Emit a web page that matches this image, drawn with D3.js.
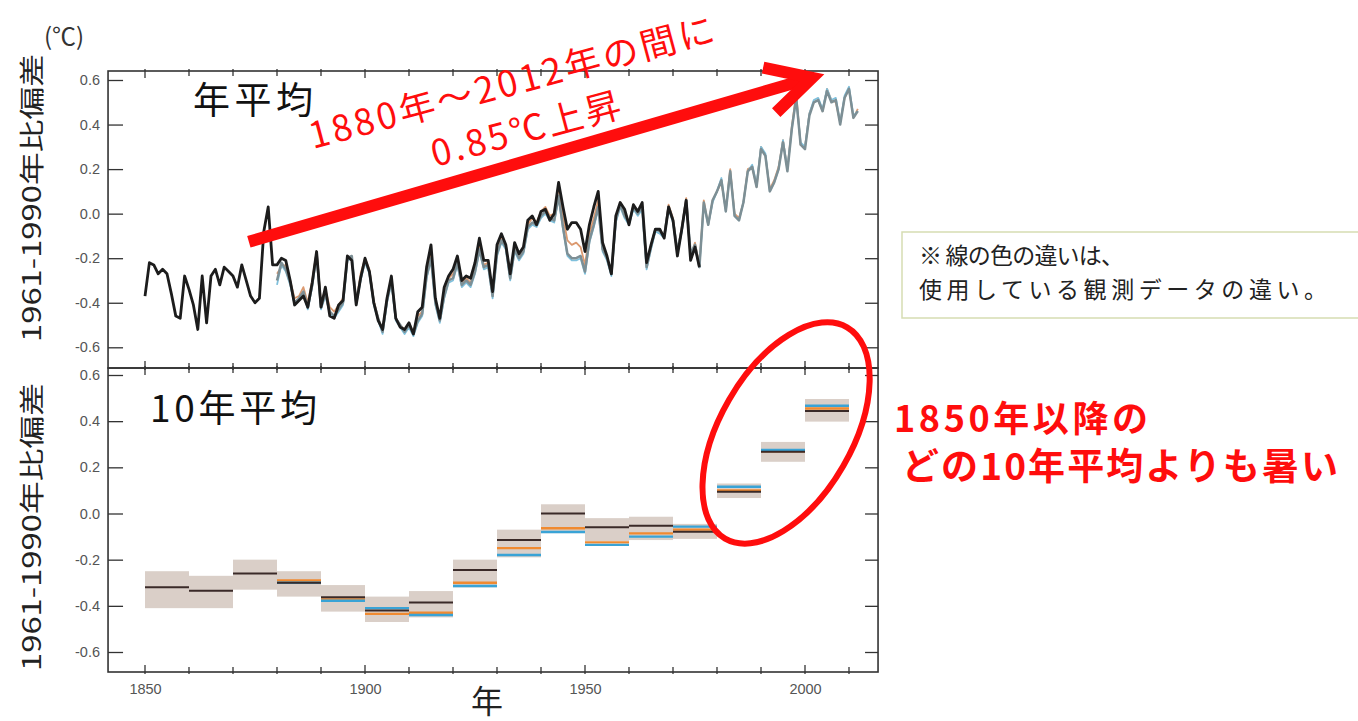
<!DOCTYPE html>
<html>
<head>
<meta charset="utf-8">
<script src="https://cdn.jsdelivr.net/npm/d3@7"></script>
<style>
  body { margin: 0; background: #fff; }
  svg { display: block; }
</style>
</head>
<body>
<svg id="chart" width="1358" height="721"></svg>
<script>
// ---- Annual global mean temperature anomaly (°C, relative to 1961-1990) ----
const hadStartYear = 1850;
const hadAnnual = [
  -0.37, -0.22, -0.23, -0.27, -0.25, -0.27, -0.36, -0.46, -0.47, -0.28,
  -0.34, -0.41, -0.52, -0.28, -0.49, -0.28, -0.25, -0.32, -0.24, -0.26,
  -0.28, -0.33, -0.23, -0.30, -0.37, -0.40, -0.38, -0.08, 0.03, -0.23,
  -0.23, -0.20, -0.21, -0.30, -0.41, -0.39, -0.37, -0.42, -0.31, -0.17,
  -0.42, -0.33, -0.46, -0.47, -0.41, -0.39, -0.19, -0.21, -0.41, -0.29,
  -0.20, -0.26, -0.40, -0.48, -0.52, -0.38, -0.28, -0.47, -0.51, -0.52,
  -0.49, -0.54, -0.44, -0.42, -0.24, -0.14, -0.38, -0.47, -0.33, -0.28,
  -0.25, -0.19, -0.30, -0.28, -0.29, -0.22, -0.11, -0.21, -0.21, -0.35,
  -0.14, -0.09, -0.14, -0.27, -0.13, -0.18, -0.15, -0.03, -0.01, -0.05,
  0.01, 0.02, -0.03, 0.00, 0.14, 0.03, -0.07, -0.04, -0.04, -0.07,
  -0.17, -0.05, 0.03, 0.10, -0.13, -0.19, -0.27, -0.01, 0.05, 0.02,
  -0.05, 0.04, 0.01, 0.05, -0.22, -0.14, -0.07, -0.07, -0.11, 0.03,
  -0.03, -0.19, -0.07, 0.06, -0.21, -0.15, -0.24
];

const altStartYear = 1880;
const grayAnnual = [
  -0.30, -0.22, -0.25, -0.31, -0.40, -0.38, -0.35, -0.42, -0.32, -0.18,
  -0.42, -0.36, -0.44, -0.46, -0.43, -0.40, -0.20, -0.19, -0.40, -0.29,
  -0.21, -0.26, -0.40, -0.47, -0.53, -0.39, -0.30, -0.47, -0.50, -0.53,
  -0.50, -0.54, -0.48, -0.45, -0.28, -0.20, -0.40, -0.48, -0.37, -0.30,
  -0.29, -0.22, -0.32, -0.30, -0.32, -0.26, -0.16, -0.24, -0.23, -0.37,
  -0.18, -0.12, -0.15, -0.29, -0.16, -0.20, -0.17, -0.06, -0.04, -0.05,
  -0.01, 0.01, -0.02, -0.03, 0.08, -0.06, -0.18, -0.20, -0.20, -0.19,
  -0.26, -0.12, -0.05, 0.03, -0.16, -0.20, -0.27, -0.03, 0.04, -0.01,
  -0.04, 0.03, 0.00, 0.03, -0.24, -0.15, -0.07, -0.08, -0.10, 0.03,
  -0.03, -0.17, -0.07, 0.06, -0.18, -0.14, -0.24, 0.05, -0.05, 0.06,
  0.10, 0.15, 0.01, 0.19, -0.01, -0.03, 0.05, 0.19, 0.21, 0.12,
  0.29, 0.26, 0.10, 0.14, 0.20, 0.32, 0.19, 0.38, 0.52, 0.31,
  0.29, 0.44, 0.50, 0.51, 0.46, 0.55, 0.50, 0.51, 0.40, 0.52,
  0.56, 0.43, 0.46
];
const orangeAnnual = [
  -0.27, -0.24, -0.23, -0.30, -0.38, -0.37, -0.33, -0.40, -0.30, -0.17,
  -0.40, -0.34, -0.42, -0.44, -0.41, -0.38, -0.19, -0.20, -0.39, -0.27,
  -0.20, -0.25, -0.39, -0.47, -0.52, -0.38, -0.30, -0.47, -0.50, -0.52,
  -0.50, -0.53, -0.46, -0.44, -0.26, -0.17, -0.39, -0.47, -0.35, -0.29,
  -0.27, -0.20, -0.31, -0.29, -0.31, -0.24, -0.14, -0.23, -0.22, -0.36,
  -0.16, -0.10, -0.14, -0.28, -0.15, -0.19, -0.16, -0.05, -0.02, -0.04,
  0.01, 0.03, -0.01, 0.00, 0.12, -0.01, -0.12, -0.14, -0.13, -0.15,
  -0.23, -0.09, -0.02, 0.06, -0.15, -0.20, -0.27, -0.02, 0.05, 0.01,
  -0.04, 0.04, 0.01, 0.04, -0.23, -0.14, -0.07, -0.07, -0.10, 0.04,
  -0.02, -0.17, -0.06, 0.07, -0.19, -0.13, -0.23, 0.06, -0.05, 0.06,
  0.10, 0.14, 0.02, 0.20, 0.00, -0.02, 0.05, 0.20, 0.21, 0.12,
  0.30, 0.26, 0.11, 0.15, 0.21, 0.33, 0.20, 0.39, 0.54, 0.31,
  0.30, 0.45, 0.50, 0.51, 0.46, 0.56, 0.51, 0.50, 0.41, 0.52,
  0.56, 0.43, 0.47
];
const blueAnnual = [
  -0.32, -0.23, -0.26, -0.32, -0.41, -0.39, -0.36, -0.43, -0.33, -0.19,
  -0.43, -0.37, -0.45, -0.47, -0.44, -0.41, -0.21, -0.20, -0.41, -0.30,
  -0.22, -0.27, -0.41, -0.48, -0.54, -0.40, -0.31, -0.48, -0.51, -0.54,
  -0.51, -0.55, -0.49, -0.46, -0.29, -0.21, -0.41, -0.49, -0.38, -0.31,
  -0.30, -0.23, -0.33, -0.31, -0.33, -0.27, -0.17, -0.25, -0.24, -0.38,
  -0.19, -0.13, -0.16, -0.30, -0.17, -0.21, -0.18, -0.07, -0.05, -0.06,
  -0.02, 0.00, -0.03, -0.04, 0.07, -0.07, -0.19, -0.21, -0.21, -0.20,
  -0.27, -0.13, -0.06, 0.02, -0.17, -0.21, -0.28, -0.04, 0.03, -0.02,
  -0.05, 0.02, -0.01, 0.02, -0.25, -0.16, -0.08, -0.09, -0.11, 0.02,
  -0.04, -0.18, -0.08, 0.05, -0.18, -0.14, -0.24, 0.04, -0.05, 0.05,
  0.10, 0.16, 0.01, 0.19, -0.01, -0.03, 0.05, 0.19, 0.22, 0.13,
  0.30, 0.27, 0.10, 0.14, 0.20, 0.33, 0.20, 0.38, 0.52, 0.32,
  0.30, 0.45, 0.51, 0.52, 0.47, 0.56, 0.51, 0.52, 0.41, 0.53,
  0.57, 0.44, 0.46
];

// ---- Decadal means (°C) ----
const decades = [1850, 1860, 1870, 1880, 1890, 1900, 1910, 1920,
                 1930, 1940, 1950, 1960, 1970, 1980, 1990, 2000];
const decBlack  = [-0.32, -0.335, -0.26, -0.30, -0.363, -0.42, -0.386, -0.245,
                   -0.115, 0.00, -0.06, -0.053, -0.079, 0.094, 0.268, 0.444];
const decHigh   = [-0.25, -0.27, -0.20, -0.25, -0.31, -0.36, -0.336, -0.20,
                   -0.07, 0.04, -0.02, -0.014, -0.045, 0.13, 0.31, 0.496];
const decLow    = [-0.41, -0.41, -0.33, -0.36, -0.425, -0.47, -0.45, -0.32,
                   -0.19, -0.085, -0.12, -0.115, -0.11, 0.067, 0.224, 0.398];
const decOrange = [null, null, null, -0.29, -0.372, -0.435, -0.43, -0.30,
                   -0.15, -0.064, -0.125, -0.086, -0.07, 0.10, 0.27, 0.455];
const decBlue   = [null, null, null, -0.30, -0.378, -0.41, -0.44, -0.314,
                   -0.18, -0.08, -0.136, -0.10, -0.057, 0.116, 0.275, 0.467];

// ---- Axis ticks ----
const yTickValues = [0.6, 0.4, 0.2, 0.0, -0.2, -0.4, -0.6];
const xLabelYears = [1850, 1900, 1950, 2000];
const decadeTicks = [1850, 1860, 1870, 1880, 1890, 1900, 1910, 1920,
                     1930, 1940, 1950, 1960, 1970, 1980, 1990, 2000, 2010];

const svg = d3.select("#chart");
const JP = "'Noto Sans CJK JP', 'Noto Sans', sans-serif";

// ---- Scales ----
const x = d3.scaleLinear().domain([1850, 2000]).range([145, 805]);
const xMin = 1841.6, xMax = 2016.6;
const yTop = d3.scaleLinear().domain([-0.6, 0.6]).range([347.3, 80]);
const yBot = d3.scaleLinear().domain([-0.6, 0.6]).range([652, 375]);
const topPanel = { y0: 71, y1: 368, scale: yTop };
const botPanel = { y0: 368, y1: 672, scale: yBot };

// ---- Bottom panel: decadal boxes and lines ----
const gBot = svg.append("g");
gBot.selectAll("rect.unc").data(decades).join("rect")
  .attr("class", "unc")
  .attr("x", d => x(d))
  .attr("width", d => x(d + 10) - x(d))
  .attr("y", (d, i) => yBot(decHigh[i]))
  .attr("height", (d, i) => yBot(decLow[i]) - yBot(decHigh[i]))
  .attr("fill", "#d6cac2")
  .attr("opacity", 0.9);

function decadeLines(values, color, width) {
  gBot.append("g").selectAll("line")
    .data(decades.map((d, i) => ({ d, v: values[i] })).filter(o => o.v !== null))
    .join("line")
    .attr("x1", o => x(o.d)).attr("x2", o => x(o.d + 10))
    .attr("y1", o => yBot(o.v)).attr("y2", o => yBot(o.v))
    .attr("stroke", color).attr("stroke-width", width);
}
decadeLines(decOrange, "#f08a30", 2.4);
decadeLines(decBlue, "#39a3d6", 2.4);
decadeLines(decBlack, "#3a2a28", 2);

// ---- Top panel: annual lines ----
const gTop = svg.append("g");
function annualLine(values, startYear, color, width) {
  const pts = values.map((v, i) => [startYear + i, v]);
  gTop.append("path")
    .datum(pts)
    .attr("fill", "none")
    .attr("stroke", color)
    .attr("stroke-width", width)
    .attr("stroke-linejoin", "round")
    .attr("d", d3.line().x(p => x(p[0])).y(p => yTop(p[1])));
}
annualLine(orangeAnnual, altStartYear, "#dc9a70", 1.8);
annualLine(blueAnnual, altStartYear, "#7fc0dc", 1.8);
annualLine(grayAnnual, altStartYear, "#7d8f95", 2.5);
annualLine(hadAnnual, hadStartYear, "#1c1c1c", 2.8);

// ---- Frames, ticks and tick labels ----
const fmt = d => d.toFixed(1);
[topPanel, botPanel].forEach(p => {
  const g = svg.append("g");
  g.append("rect")
    .attr("x", x(xMin)).attr("y", p.y0)
    .attr("width", x(xMax) - x(xMin)).attr("height", p.y1 - p.y0)
    .attr("fill", "none").attr("stroke", "#333").attr("stroke-width", 1.6);

  // y ticks pointing inward, with labels on the left
  const left = g.append("g").attr("transform", `translate(${x(xMin)},0)`)
    .call(d3.axisLeft(p.scale).tickValues(yTickValues).tickFormat(fmt)
      .tickSizeInner(-15).tickSizeOuter(0).tickPadding(8));
  left.select(".domain").remove();
  left.selectAll(".tick line").attr("stroke", "#333").attr("stroke-width", 1.3);
  left.selectAll(".tick text")
    .attr("font-family", "'Liberation Sans', Arial, sans-serif")
    .attr("font-size", 14.5).attr("fill", "#555");

  const right = g.append("g").attr("transform", `translate(${x(xMax)},0)`)
    .call(d3.axisRight(p.scale).tickValues(yTickValues).tickFormat("")
      .tickSizeInner(-13).tickSizeOuter(0));
  right.select(".domain").remove();
  right.selectAll(".tick line").attr("stroke", "#333").attr("stroke-width", 1.3);

  // decade ticks along top and bottom edges
  [[p.y0, 1], [p.y1, -1]].forEach(([yy, dir]) => {
    g.append("g").selectAll("line").data(decadeTicks).join("line")
      .attr("x1", d => x(d)).attr("x2", d => x(d))
      .attr("y1", yy - dir * 2)
      .attr("y2", d => yy + dir * (d % 50 === 0 ? 7 : 5))
      .attr("stroke", "#333").attr("stroke-width", 1.3);
  });
});

// x tick labels
const xAx = svg.append("g").attr("transform", `translate(0,${botPanel.y1})`)
  .call(d3.axisBottom(x).tickValues(xLabelYears).tickFormat(d3.format("d"))
    .tickSize(0).tickPadding(12));
xAx.select(".domain").remove();
xAx.selectAll(".tick text")
  .attr("font-family", "'Liberation Sans', Arial, sans-serif")
  .attr("font-size", 14.5).attr("fill", "#555");

// ---- Axis titles ----
svg.append("text").attr("x", 64).attr("y", 45)
  .attr("text-anchor", "middle")
  .attr("font-family", JP)
  .attr("font-size", 24).attr("fill", "#333")
  .text("(℃)");

[198, 527].forEach(cy => {
  svg.append("text")
    .attr("transform", `translate(41,${cy}) rotate(-90)`)
    .attr("text-anchor", "middle")
    .attr("font-family", JP).attr("font-size", 25).attr("fill", "#222")
    .attr("textLength", 288).attr("lengthAdjust", "spacingAndGlyphs")
    .text("1961-1990年比偏差");
});

svg.append("text").attr("x", (x(xMin) + x(xMax)) / 2 - 6).attr("y", 713)
  .attr("text-anchor", "middle")
  .attr("font-family", JP).attr("font-size", 32).attr("fill", "#222")
  .text("年");

// ---- Panel titles ----
svg.append("text").attr("x", 193).attr("y", 114)
  .attr("font-family", JP).attr("font-size", 37).attr("fill", "#111")
  .attr("textLength", 120).attr("lengthAdjust", "spacing")
  .text("年平均");
svg.append("text").attr("x", 150).attr("y", 422)
  .attr("font-family", JP).attr("font-size", 37).attr("fill", "#111")
  .attr("textLength", 167).attr("lengthAdjust", "spacing")
  .text("10年平均");

// ---- Trend arrow (1880 → 2012) ----
const red = "#ff0d0d";
const a0 = [x(1873.6), yTop(-0.126)];
const a1 = [x(2001.6), yTop(0.61)];
const ang = Math.atan2(a1[1] - a0[1], a1[0] - a0[0]);
const headLen = 50, headAng = 28 * Math.PI / 180;
const arm = s => [a1[0] - headLen * Math.cos(ang + s * headAng),
                  a1[1] - headLen * Math.sin(ang + s * headAng)];
svg.append("line")
  .attr("x1", a0[0]).attr("y1", a0[1])
  .attr("x2", a1[0] - 8 * Math.cos(ang)).attr("y2", a1[1] - 8 * Math.sin(ang))
  .attr("stroke", red).attr("stroke-width", 12);
svg.append("path")
  .attr("d", d3.line()([arm(1), a1, arm(-1)]))
  .attr("fill", "none").attr("stroke", red).attr("stroke-width", 12)
  .attr("stroke-linejoin", "miter").attr("stroke-miterlimit", 10);

svg.append("text")
  .attr("transform", "translate(313,149) rotate(-15)")
  .attr("font-family", JP).attr("font-size", 36).attr("fill", red)
  .attr("textLength", 418).attr("lengthAdjust", "spacing")
  .text("1880年～2012年の間に");
svg.append("text")
  .attr("transform", "translate(435,167) rotate(-15)")
  .attr("font-family", JP).attr("font-size", 36).attr("fill", red)
  .attr("textLength", 195).attr("lengthAdjust", "spacing")
  .text("0.85℃上昇");

// ---- Highlight ellipse around the last three decades ----
svg.append("ellipse")
  .attr("transform", `translate(${x(1995.7)},${yBot(0.349)}) rotate(30)`)
  .attr("rx", 66).attr("ry", 122)
  .attr("fill", "none").attr("stroke", red).attr("stroke-width", 6);

svg.append("text").attr("x", 894).attr("y", 432)
  .attr("font-family", JP).attr("font-weight", "bold")
  .attr("font-size", 36).attr("fill", red)
  .attr("textLength", 254).attr("lengthAdjust", "spacing")
  .text("1850年以降の");
svg.append("text").attr("x", 902).attr("y", 480)
  .attr("font-family", JP).attr("font-weight", "bold")
  .attr("font-size", 37).attr("fill", red)
  .attr("textLength", 436).attr("lengthAdjust", "spacing")
  .text("どの10年平均よりも暑い");

// ---- Note box ----
svg.append("rect").attr("x", 902).attr("y", 232)
  .attr("width", 480).attr("height", 86)
  .attr("fill", "#fff").attr("stroke", "#d6ddb2").attr("stroke-width", 1.5);
svg.append("text").attr("x", 919).attr("y", 264)
  .attr("font-family", JP).attr("font-size", 23).attr("fill", "#222")
  .attr("textLength", 205).attr("lengthAdjust", "spacing")
  .text("※ 線の色の違いは、");
svg.append("text").attr("x", 919).attr("y", 298)
  .attr("font-family", JP).attr("font-size", 23).attr("fill", "#222")
  .attr("textLength", 408).attr("lengthAdjust", "spacing")
  .text("使用している観測データの違い。");
</script>
</body>
</html>
